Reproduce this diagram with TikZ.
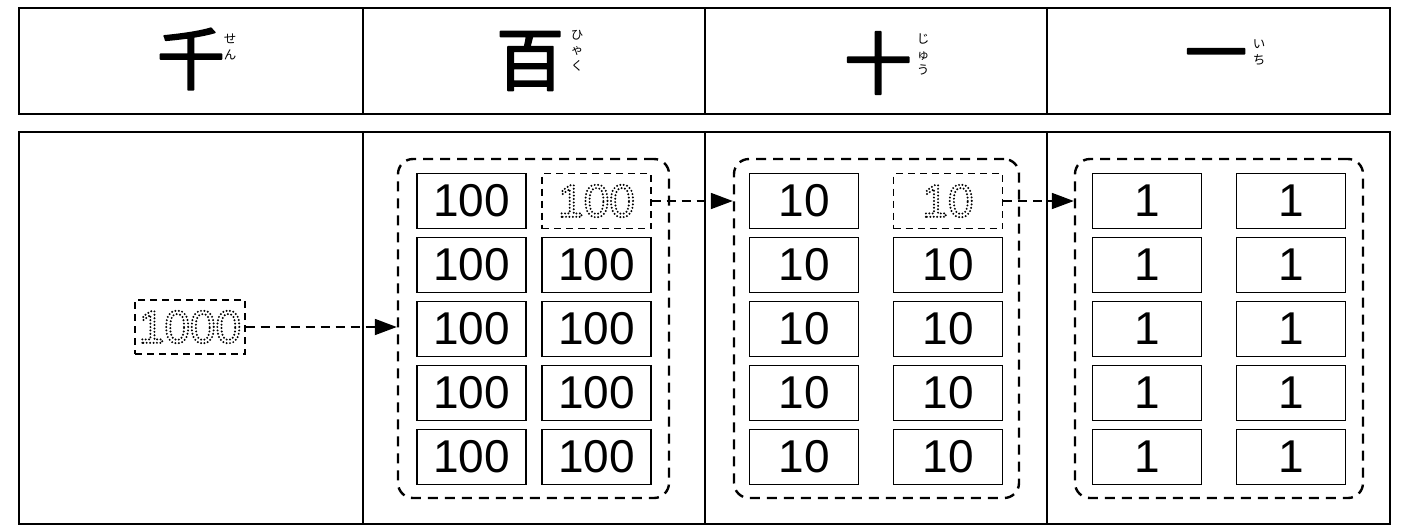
\documentclass[tikz,border=0pt]{standalone}
\usepackage{fontspec}
\setmainfont{Liberation Sans}
\newfontfamily\cjk{Noto Sans CJK JP}
\usetikzlibrary{arrows.meta}
\newcommand\dottxt[1]{\special{pdf:literal direct 1 Tr 1 J 2.2 w [0 3.4] 0 d}#1\special{pdf:literal direct 0 Tr 0 J [] 0 d}}
\newcommand\heavytxt[1]{\special{pdf:literal direct 2 Tr 1 j 1.6 w}#1\special{pdf:literal direct 0 Tr 0 j}}
\begin{document}
\begin{tikzpicture}[x=1pt,y=-1pt,
  frame/.style={line width=1.6pt},
  kanji/.style={font=\cjk\fontsize{68}{68}\selectfont, inner sep=0},
  furi/.style={font=\cjk\fontsize{12.5}{15.5}\selectfont, align=center, inner sep=0, anchor=north},
  nbox/.style={draw, line width=1.7pt, minimum width=109pt, minimum height=55pt, inner sep=0, font=\fontsize{46}{46}\selectfont},
  dbox/.style={nbox, line width=1.4pt, dash pattern=on 7pt off 5pt},
  grp/.style={draw, line width=2.4pt, rounded corners=15pt, dash pattern=on 10pt off 7pt},
  arr/.style={line width=1.8pt, dash pattern=on 9pt off 6pt, -{Triangle[length=22pt,width=16pt]}}]
\useasboundingbox (0,0) rectangle (1405,528);
% frames
\draw[frame] (19,8) rectangle (1390,114);
\draw[frame] (19,132) rectangle (1390,524);
\foreach \x in {363,705,1047} {
  \draw[frame] (\x,8) -- (\x,114);
  \draw[frame] (\x,132) -- (\x,524);
}
% header
\node[kanji] (k1) at (191,59) {\heavytxt{千}};
\node[kanji] (k2) at (530,61) {\heavytxt{百}};
\node[kanji] (k3) at (878,63) {\heavytxt{十}};
\node[kanji, font=\cjk\fontsize{62}{62}\selectfont] (k4) at (1216,62) {\heavytxt{一}};
\node[furi] (f1) at (230,34) {せ\\ん};
\node[furi] (f2) at (577,30) {ひ\\ゃ\\く};
\node[furi] (f3) at (923,34) {じ\\ゅ\\う};
\node[furi] (f4) at (1259,40) {い\\ち};
% thousand
\node[dbox, minimum width=110pt, minimum height=54pt] (d1000) at (190,327) {\dottxt{1000}};
% groups
\node[grp, minimum width=271pt, minimum height=339pt] (g2) at (533.5,328.5) {};
\node[grp, minimum width=285pt, minimum height=339pt] (g3) at (876.5,328.5) {};
\node[grp, minimum width=288pt, minimum height=339pt] (g4) at (1219,328.5) {};
% hundreds
\node[nbox] (h11) at (471.5,201) {100};
\node[dbox] (h12) at (596.5,201) {\dottxt{100}};
\foreach \r/\y in {2/265,3/329,4/393,5/457} {
  \node[nbox] (h\r1) at (471.5,\y) {100};
  \node[nbox] (h\r2) at (596.5,\y) {100};
}
% tens
\node[nbox] (t11) at (804,201) {10};
\node[dbox] (t12) at (948,201) {\dottxt{10}};
\foreach \r/\y in {2/265,3/329,4/393,5/457} {
  \node[nbox] (t\r1) at (804,\y) {10};
  \node[nbox] (t\r2) at (948,\y) {10};
}
% ones
\foreach \r/\y in {1/201,2/265,3/329,4/393,5/457} {
  \node[nbox] (o\r1) at (1147,\y) {1};
  \node[nbox] (o\r2) at (1291,\y) {1};
}
% arrows
\draw[arr] (d1000.east) -- (d1000.east -| g2.west);
\draw[arr] (h12.east) -- (h12.east -| g3.west);
\draw[arr] (t12.east) -- (t12.east -| g4.west);
\end{tikzpicture}
\end{document}
